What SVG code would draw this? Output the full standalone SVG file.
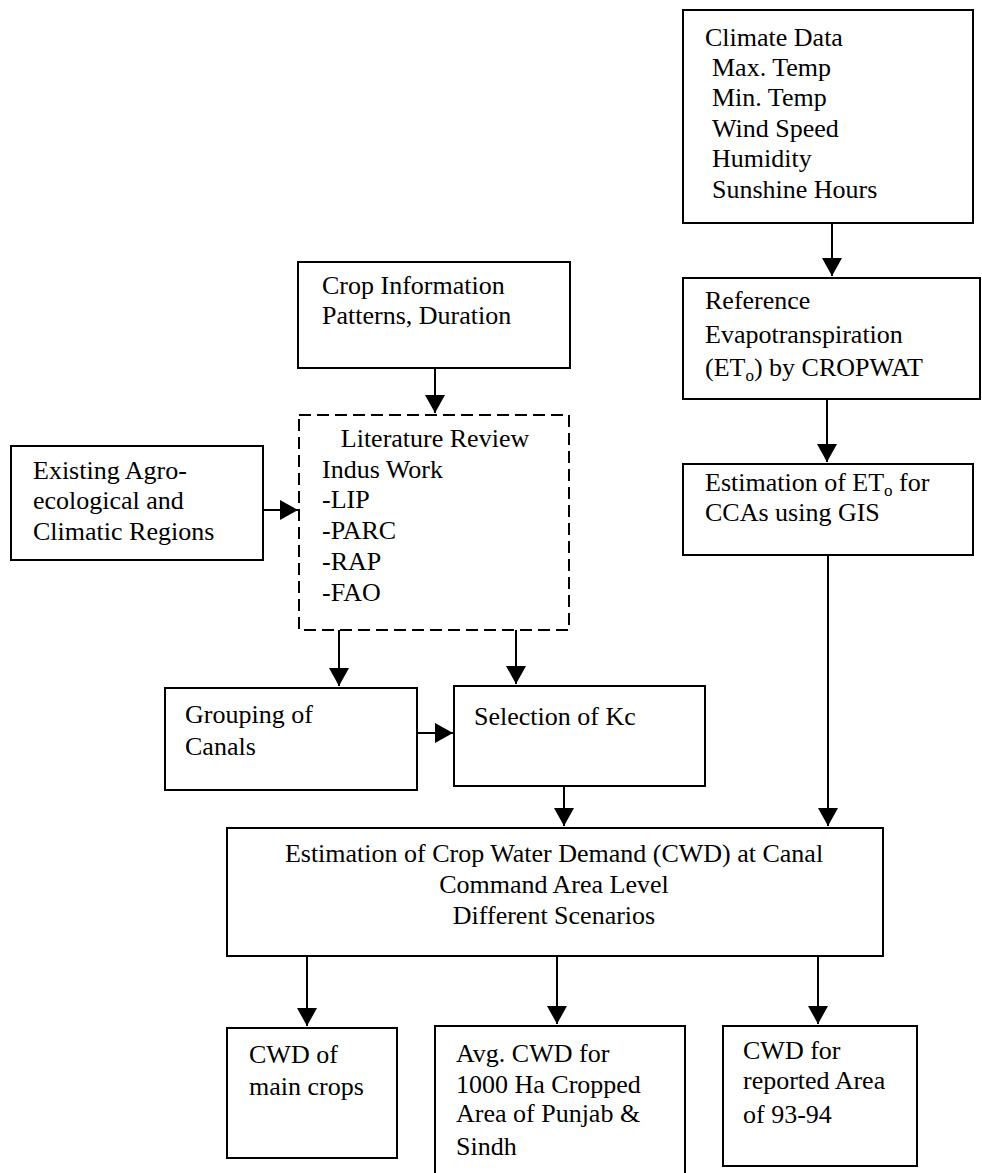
<svg xmlns="http://www.w3.org/2000/svg" width="982" height="1173" viewBox="0 0 982 1173">
<style>
.box{fill:#fff;stroke:#000;stroke-width:2}
.dash{fill:#fff;stroke:#000;stroke-width:2;stroke-dasharray:12 6}
text{font-family:"Times New Roman",Times,"Liberation Serif",serif;font-size:26px;fill:#000}
.c{text-anchor:middle}
.sub{font-size:17px}
.ln{stroke:#000;stroke-width:2;fill:none;marker-end:url(#ah)}
</style>
<defs>
<marker id="ah" markerUnits="userSpaceOnUse" viewBox="0 0 18 20" markerWidth="18" markerHeight="20" refX="18" refY="10" orient="auto">
<path d="M0,0 L18,10 L0,20 z" fill="#000"/>
</marker>
</defs>
<rect width="982" height="1173" fill="#fff"/>
<g id="climate">
<rect class="box" x="683" y="10" width="290" height="213"/>
<text x="705" y="46">Climate Data</text>
<text x="712" y="76">Max. Temp</text>
<text x="712" y="106">Min. Temp</text>
<text x="712" y="137">Wind Speed</text>
<text x="712" y="167">Humidity</text>
<text x="712" y="198">Sunshine Hours</text>
</g>
<g id="reference">
<rect class="box" x="683" y="278" width="297" height="121"/>
<text x="705" y="309">Reference</text>
<text x="705" y="343">Evapotranspiration</text>
<text x="705" y="376">(ET<tspan class="sub" dy="5">o</tspan><tspan dy="-5">) by CROPWAT</tspan></text>
</g>
<g id="estimation-eto">
<rect class="box" x="683" y="464" width="290" height="91"/>
<text x="705" y="491">Estimation of ET<tspan class="sub" dy="5">o</tspan><tspan dy="-5"> for</tspan></text>
<text x="705" y="521">CCAs using GIS</text>
</g>
<g id="crop-info">
<rect class="box" x="298" y="262" width="272" height="106"/>
<text x="322" y="294">Crop Information</text>
<text x="322" y="324">Patterns, Duration</text>
</g>
<g id="literature">
<rect class="dash" x="299" y="415" width="270" height="215"/>
<text class="c" x="435" y="447">Literature Review</text>
<text x="322" y="478">Indus Work</text>
<text x="322" y="508">-LIP</text>
<text x="322" y="539">-PARC</text>
<text x="322" y="570">-RAP</text>
<text x="322" y="601">-FAO</text>
</g>
<g id="existing">
<rect class="box" x="11" y="446" width="252" height="114"/>
<text x="33" y="479">Existing Agro-</text>
<text x="33" y="509">ecological and</text>
<text x="33" y="540">Climatic Regions</text>
</g>
<g id="grouping">
<rect class="box" x="165" y="688" width="252" height="102"/>
<text x="185" y="723">Grouping of</text>
<text x="185" y="755">Canals</text>
</g>
<g id="selection">
<rect class="box" x="454" y="686" width="251" height="100"/>
<text x="474" y="725">Selection of Kc</text>
</g>
<g id="cwd-estimation">
<rect class="box" x="227" y="828" width="656" height="128"/>
<text class="c" x="554" y="862">Estimation of Crop Water Demand (CWD) at Canal</text>
<text class="c" x="554" y="893">Command Area Level</text>
<text class="c" x="554" y="924">Different Scenarios</text>
</g>
<g id="cwd-main">
<rect class="box" x="227" y="1028" width="170" height="130"/>
<text x="249" y="1063">CWD of</text>
<text x="249" y="1095">main crops</text>
</g>
<g id="cwd-avg">
<rect class="box" x="435" y="1026" width="250" height="160"/>
<text x="456" y="1062">Avg. CWD for</text>
<text x="456" y="1093">1000 Ha Cropped</text>
<text x="456" y="1122">Area of Punjab &amp;</text>
<text x="456" y="1155">Sindh</text>
</g>
<g id="cwd-reported">
<rect class="box" x="723" y="1026" width="194" height="140"/>
<text x="743" y="1059">CWD for</text>
<text x="743" y="1089">reported Area</text>
<text x="743" y="1123">of 93-94</text>
</g>
<g id="connectors">
<line class="ln" x1="832" y1="223" x2="832" y2="276"/>
<line class="ln" x1="827" y1="399" x2="827" y2="462"/>
<line class="ln" x1="828" y1="555" x2="828" y2="826"/>
<line class="ln" x1="435" y1="368" x2="435" y2="413"/>
<line class="ln" x1="263" y1="510" x2="298" y2="510"/>
<line class="ln" x1="339" y1="630" x2="339" y2="686"/>
<line class="ln" x1="516" y1="630" x2="516" y2="684"/>
<line class="ln" x1="417" y1="733" x2="453" y2="733"/>
<line class="ln" x1="564" y1="786" x2="564" y2="826"/>
<line class="ln" x1="307" y1="956" x2="307" y2="1026"/>
<line class="ln" x1="557" y1="956" x2="557" y2="1024"/>
<line class="ln" x1="818" y1="956" x2="818" y2="1024"/>
</g>
</svg>
